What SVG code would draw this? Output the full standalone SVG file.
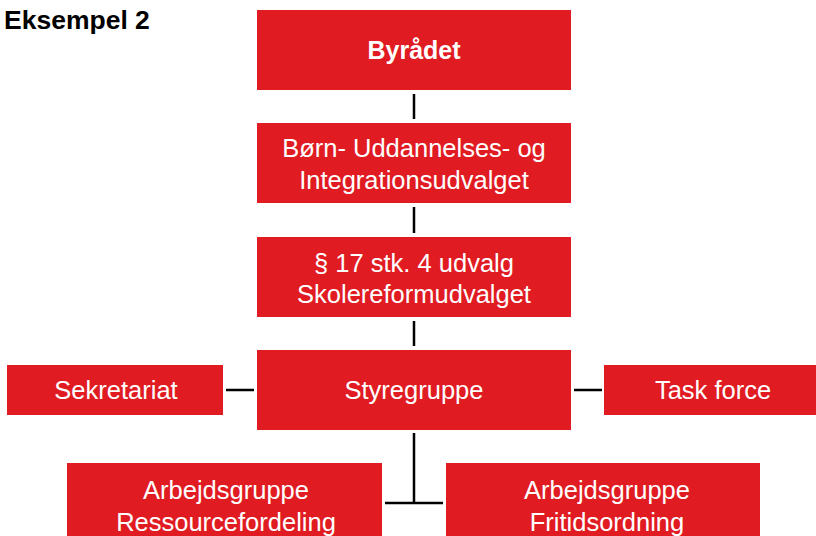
<svg xmlns="http://www.w3.org/2000/svg" width="816" height="536" viewBox="0 0 816 536">
<style>
.box{fill:#E11B22}
.t{font-family:"Liberation Sans",Arial,sans-serif;font-size:25.5px;fill:#fff;text-anchor:middle}
.b{font-weight:bold;font-size:25px}
.c{stroke:#000;stroke-width:2.5;fill:none}
.title{font-family:"Liberation Sans",Arial,sans-serif;font-size:26.5px;font-weight:bold;fill:#000}
</style>
<rect width="816" height="536" fill="#fff"/>
<text class="title" x="4" y="29">Eksempel 2</text>
<g id="connectors">
<path class="c" d="M414 94V119M414 207V233M414 321V346M226 390H254M574 390H602M414 433V503M385 503H443"/>
</g>
<g id="byraadet"><rect class="box" x="257" y="10" width="314" height="80"/><text class="t b" x="414" y="59">Byrådet</text></g>
<g id="bu"><rect class="box" x="257" y="123" width="314" height="80"/><text class="t" x="414" y="157">Børn- Uddannelses- og</text><text class="t" x="414" y="189">Integrationsudvalget</text></g>
<g id="skole"><rect class="box" x="257" y="237" width="314" height="80"/><text class="t" x="414" y="272">§ 17 stk. 4 udvalg</text><text class="t" x="414" y="303">Skolereformudvalget</text></g>
<g id="styregruppe"><rect class="box" x="257" y="350" width="314" height="80"/><text class="t" x="414" y="399">Styregruppe</text></g>
<g id="sekretariat"><rect class="box" x="7" y="365" width="216" height="50"/><text class="t" x="116" y="399">Sekretariat</text></g>
<g id="taskforce"><rect class="box" x="604" y="365" width="212" height="50"/><text class="t" x="713" y="399">Task force</text></g>
<g id="ag-ressource"><rect class="box" x="67" y="463" width="315" height="80"/><text class="t" x="226" y="499">Arbejdsgruppe</text><text class="t" x="226" y="531">Ressourcefordeling</text></g>
<g id="ag-fritid"><rect class="box" x="446" y="463" width="314" height="80"/><text class="t" x="607" y="499">Arbejdsgruppe</text><text class="t" x="607" y="531">Fritidsordning</text></g>
</svg>
